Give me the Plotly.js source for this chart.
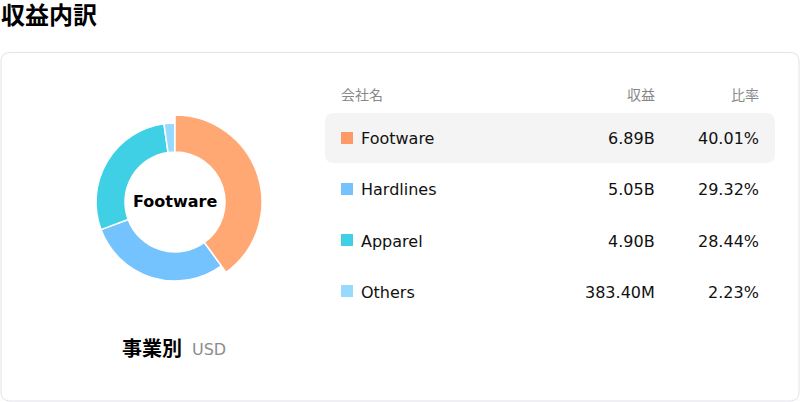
<!DOCTYPE html>
<html>
<head>
<meta charset="utf-8">
<script src="https://cdn.plot.ly/plotly-3.0.1.min.js"></script>
<style>
  html, body { margin: 0; padding: 0; background: #fff; }
  #chart { width: 800px; height: 402px; }
</style>
</head>
<body>
<div id="chart"></div>
<script>
var segments = ['Footware', 'Hardlines', 'Apparel', 'Others'];
var revenue = [6.89e9, 5.05e9, 4.90e9, 383.4e6];
var revenueText = ['6.89B', '5.05B', '4.90B', '383.40M'];
var shareText = ['40.01%', '29.32%', '28.44%', '2.23%'];
var colors = ['#FF9966', '#74C3FF', '#40D0E6', '#96DAFF'];
var donutColors = ['#FFA874', '#74C3FF', '#40D0E6', '#96DAFF'];
var headers = ['会社名', '収益', '比率'];

var W = 800, H = 402;
var FONT = 'DejaVu Sans, Noto Sans CJK JP, sans-serif';
function X(px) { return px / W; }
function Y(py) { return 1 - py / H; }

// rounded rect as a paper-ref path
function roundRect(x0, y0, x1, y1, r) {
  return 'M' + X(x0 + r) + ',' + Y(y0) +
    ' L' + X(x1 - r) + ',' + Y(y0) +
    ' Q' + X(x1) + ',' + Y(y0) + ' ' + X(x1) + ',' + Y(y0 + r) +
    ' L' + X(x1) + ',' + Y(y1 - r) +
    ' Q' + X(x1) + ',' + Y(y1) + ' ' + X(x1 - r) + ',' + Y(y1) +
    ' L' + X(x0 + r) + ',' + Y(y1) +
    ' Q' + X(x0) + ',' + Y(y1) + ' ' + X(x0) + ',' + Y(y1 - r) +
    ' L' + X(x0) + ',' + Y(y0 + r) +
    ' Q' + X(x0) + ',' + Y(y0) + ' ' + X(x0 + r) + ',' + Y(y0) + ' Z';
}

// donut geometry (px)
var cx = 175, cy = 202, rIn = 50, rOut = 79, rHi = 87;
function dom(r) {
  return { x: [X(cx - r), X(cx + r)], y: [Y(cy + r), Y(cy - r)] };
}

var base = {
  type: 'pie',
  labels: segments,
  values: revenue,
  sort: false,
  direction: 'clockwise',
  rotation: 0,
  textinfo: 'none',
  hoverinfo: 'skip',
  showlegend: false,
  domain: dom(rOut),
  hole: rIn / rOut,
  marker: { colors: donutColors, line: { color: '#ffffff', width: 1.5 } }
};

// emphasised first slice, drawn a bit larger
var emph = {
  type: 'pie',
  labels: segments,
  values: revenue,
  sort: false,
  direction: 'clockwise',
  rotation: 0,
  textinfo: 'none',
  hoverinfo: 'skip',
  showlegend: false,
  domain: dom(rHi),
  hole: rIn / rHi,
  marker: {
    colors: donutColors.map(function (c, i) { return i === 0 ? c : 'rgba(0,0,0,0)'; }),
    line: {
      color: donutColors.map(function (c, i) { return i === 0 ? '#ffffff' : 'rgba(0,0,0,0)'; }),
      width: 1.5
    }
  }
};

var shapes = [
  { type: 'path', xref: 'paper', yref: 'paper', path: roundRect(1, 52.5, 799, 401, 9),
    line: { color: '#E2E2EA', width: 1 }, fillcolor: 'rgba(0,0,0,0)', layer: 'below' },
  { type: 'path', xref: 'paper', yref: 'paper', path: roundRect(325, 113, 775, 163, 9),
    line: { width: 0 }, fillcolor: '#F4F4F4', layer: 'below' }
];

var ann = [
  { text: '<b>収益内訳</b>', x: X(0), y: Y(16), xanchor: 'left', yanchor: 'middle',
    font: { size: 24, color: '#000', family: FONT } },
  { text: '<b>' + segments[0] + '</b>', x: X(cx), y: Y(cy - 1), xanchor: 'center', yanchor: 'middle',
    font: { size: 16, color: '#000', family: FONT } },
  { text: '<b>事業別</b>', x: X(183), y: Y(349), xanchor: 'right', yanchor: 'middle',
    font: { size: 20, color: '#000', family: FONT } },
  { text: 'USD', x: X(191), y: Y(349), xanchor: 'left', yanchor: 'middle',
    font: { size: 16, color: '#8C8C8C', family: FONT } },
  { text: headers[0], x: X(340), y: Y(95), xanchor: 'left', yanchor: 'middle',
    font: { size: 14, color: '#888', family: FONT } },
  { text: headers[1], x: X(656), y: Y(95), xanchor: 'right', yanchor: 'middle',
    font: { size: 14, color: '#888', family: FONT } },
  { text: headers[2], x: X(760), y: Y(95), xanchor: 'right', yanchor: 'middle',
    font: { size: 14, color: '#888', family: FONT } }
];

var rowY0 = 139, rowStep = 51;
segments.forEach(function (s, i) {
  var y = rowY0 + i * rowStep;
  shapes.push({ type: 'rect', xref: 'paper', yref: 'paper',
    x0: X(341), x1: X(353), y0: Y(y - 7), y1: Y(y + 5),
    fillcolor: colors[i], line: { width: 0 } });
  ann.push({ text: s, x: X(360), y: Y(y), xanchor: 'left', yanchor: 'middle',
    font: { size: 16, color: '#111', family: FONT } });
  ann.push({ text: revenueText[i], x: X(656), y: Y(y), xanchor: 'right', yanchor: 'middle',
    font: { size: 16, color: '#111', family: FONT } });
  ann.push({ text: shareText[i], x: X(760), y: Y(y), xanchor: 'right', yanchor: 'middle',
    font: { size: 16, color: '#111', family: FONT } });
});
ann.forEach(function (a) { a.xref = 'paper'; a.yref = 'paper'; a.showarrow = false; a.borderpad = 0; });

var layout = {
  width: W,
  height: H,
  margin: { l: 0, r: 0, t: 0, b: 0 },
  paper_bgcolor: '#ffffff',
  font: { family: FONT },
  shapes: shapes,
  annotations: ann
};

Plotly.newPlot('chart', [base, emph], layout, { displayModeBar: false, staticPlot: true });
</script>
</body>
</html>
